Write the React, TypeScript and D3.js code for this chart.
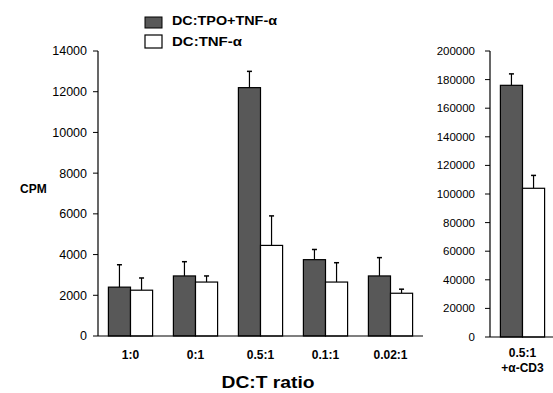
import React from 'react'
import * as d3 from 'd3'

const ratios = ['1:0', '0:1', '0.5:1', '0.1:1', '0.02:1']
const tpoValues = [2400, 2950, 12200, 3750, 2950]
const tpoErr = [1100, 700, 800, 500, 900]
const tnfValues = [2250, 2650, 4450, 2650, 2100]
const tnfErr = [600, 300, 1450, 950, 200]

const cd3Category = ['0.5:1']
const cd3Tpo = [176000]
const cd3TpoErr = [8000]
const cd3Tnf = [104000]
const cd3TnfErr = [9000]

const leftTicks = d3.range(0, 14001, 2000)
const rightTicks = d3.range(0, 200001, 20000)

const DARK = '#585858'
const FONT = 'Liberation Sans, Arial, sans-serif'

const App = () => {
  const width = 553
  const height = 393

  // left panel
  const xLeft = d3.scaleBand().domain(ratios).range([98, 423]).paddingInner(0.32).paddingOuter(0.16)
  const yLeft = d3.scaleLinear().domain([0, 14000]).range([336, 51])
  const sub = d3.scaleBand().domain(['tpo', 'tnf']).range([0, xLeft.bandwidth()])

  // right panel
  const xRight = d3.scaleBand().domain(cd3Category).range([490, 555]).paddingInner(0.32).paddingOuter(0.16)
  const yRight = d3.scaleLinear().domain([0, 200000]).range([337, 51])
  const subR = d3.scaleBand().domain(['tpo', 'tnf']).range([0, xRight.bandwidth()])

  const bar = (x: number, w: number, y0: number, y1: number, err: number, fill: string, key: string) => {
    const cx = x + w / 2
    return (
      <g key={key}>
        <line x1={cx} x2={cx} y1={y1} y2={err} stroke="#000" strokeWidth={1.2} />
        <line x1={cx - 2.5} x2={cx + 2.5} y1={err} y2={err} stroke="#000" strokeWidth={1.5} />
        <rect x={x} y={y1} width={w} height={y0 - y1} fill={fill} stroke="#000" strokeWidth={1.2} />
      </g>
    )
  }

  return (
    <svg width={width} height={height} style={{ position: 'absolute', left: 0, top: 0, background: '#fff' }} fontFamily={FONT}>
      {/* legend */}
      <rect x={145} y={17} width={17} height={11} fill={DARK} stroke="#000" strokeWidth={1} />
      <rect x={145} y={35} width={17} height={13} fill="#fff" stroke="#000" strokeWidth={1.2} />
      <text x={172} y={24.5} fontSize={12.5} fontWeight="bold" textLength={105} lengthAdjust="spacingAndGlyphs">DC:TPO+TNF-α</text>
      <text x={172} y={46} fontSize={12.5} fontWeight="bold" textLength={70} lengthAdjust="spacingAndGlyphs">DC:TNF-α</text>

      {/* left y axis */}
      <line x1={98} x2={98} y1={yLeft(14000)} y2={yLeft(0)} stroke="#000" strokeWidth={1.2} />
      {leftTicks.map(t => (
        <g key={t}>
          <line x1={93} x2={98} y1={yLeft(t)} y2={yLeft(t)} stroke="#000" />
          <text x={87} y={yLeft(t)} dy="0.35em" textAnchor="end" fontSize={12.5}>{t}</text>
        </g>
      ))}
      <text x={20} y={193} fontSize={12} fontWeight="bold">CPM</text>

      {/* left bars */}
      {ratios.map((r, i) => {
        const x0 = xLeft(r) as number
        return (
          <g key={r}>
            {bar(x0 + (sub('tpo') as number), sub.bandwidth(), yLeft(0), yLeft(tpoValues[i]), yLeft(tpoValues[i] + tpoErr[i]), DARK, 'a')}
            {bar(x0 + (sub('tnf') as number), sub.bandwidth(), yLeft(0), yLeft(tnfValues[i]), yLeft(tnfValues[i] + tnfErr[i]), '#fff', 'b')}
            <text x={x0 + xLeft.bandwidth() / 2} y={359} textAnchor="middle" fontSize={12} fontWeight="bold">{r}</text>
          </g>
        )
      })}
      <line x1={98} x2={423} y1={yLeft(0)} y2={yLeft(0)} stroke="#000" strokeWidth={1.2} />
      <text x={268} y={388} textAnchor="middle" fontSize={17} fontWeight="bold" textLength={93} lengthAdjust="spacingAndGlyphs">DC:T ratio</text>

      {/* right y axis */}
      <line x1={490} x2={490} y1={yRight(200000)} y2={yRight(0)} stroke="#000" strokeWidth={1.2} />
      {rightTicks.map(t => (
        <g key={t}>
          <line x1={485} x2={490} y1={yRight(t)} y2={yRight(t)} stroke="#000" />
          <text x={475} y={yRight(t)} dy="0.35em" textAnchor="end" fontSize={11.5}>{t}</text>
        </g>
      ))}

      {/* right bars */}
      {cd3Category.map((c, i) => {
        const x0 = xRight(c) as number
        return (
          <g key={c}>
            {bar(x0 + (subR('tpo') as number), subR.bandwidth(), yRight(0), yRight(cd3Tpo[i]), yRight(cd3Tpo[i] + cd3TpoErr[i]), DARK, 'a')}
            {bar(x0 + (subR('tnf') as number), subR.bandwidth(), yRight(0), yRight(cd3Tnf[i]), yRight(cd3Tnf[i] + cd3TnfErr[i]), '#fff', 'b')}
            <text x={x0 + xRight.bandwidth() / 2} y={357} textAnchor="middle" fontSize={12} fontWeight="bold">{c}</text>
            <text x={x0 + xRight.bandwidth() / 2} y={372} textAnchor="middle" fontSize={12} fontWeight="bold">+α-CD3</text>
          </g>
        )
      })}
      <line x1={490} x2={553} y1={yRight(0)} y2={yRight(0)} stroke="#000" strokeWidth={1.2} />
    </svg>
  )
}

export default App
